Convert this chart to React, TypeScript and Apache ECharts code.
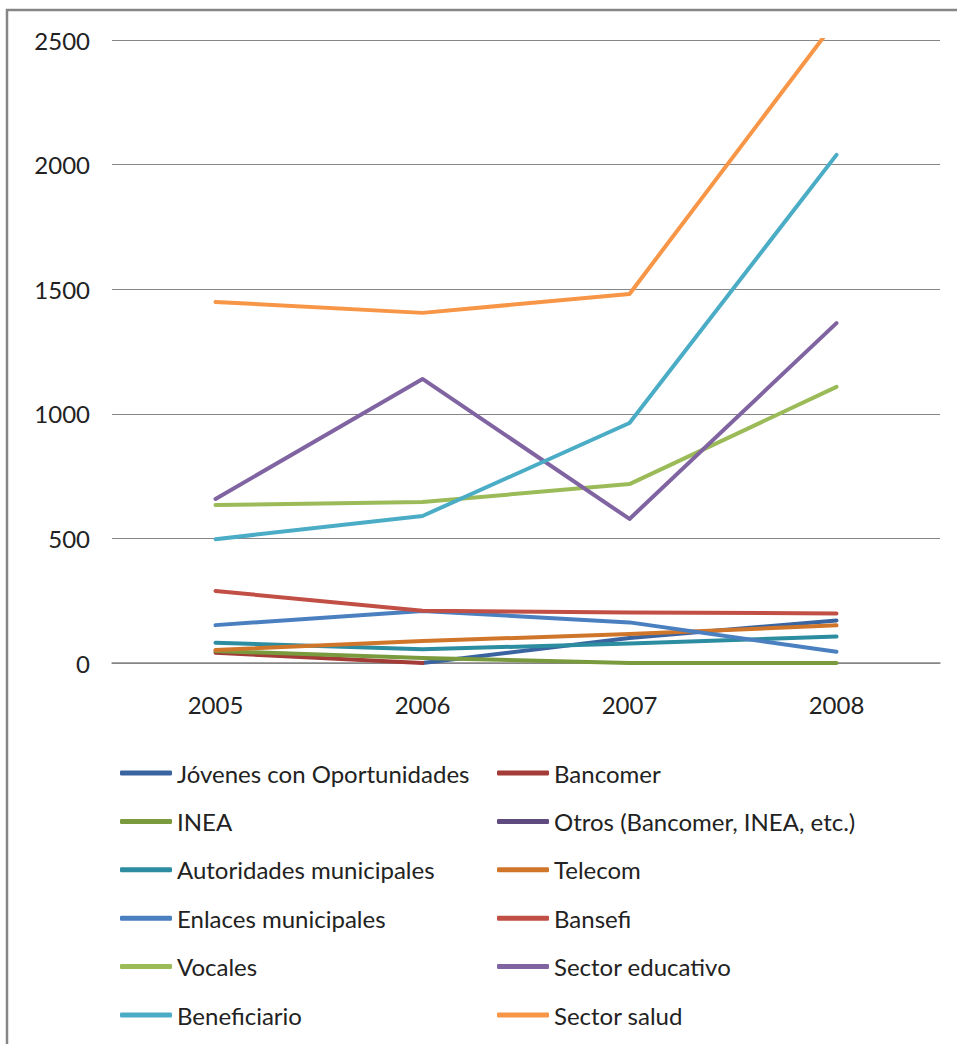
import React, { useEffect, useRef } from "react";
import * as echarts from "echarts";

const years = ["2005", "2006", "2007", "2008"];
const seriesNames = [
  "Jóvenes con Oportunidades",
  "Bancomer",
  "INEA",
  "Otros (Bancomer, INEA, etc.)",
  "Autoridades municipales",
  "Telecom",
  "Enlaces municipales",
  "Bansefi",
  "Vocales",
  "Sector educativo",
  "Beneficiario",
  "Sector salud",
];
const jovenes = [null, 0, 100, 171];
const bancomer = [41, 0, null, null];
const inea = [48, 20, 0, 0];
const otros = [null, null, null, null];
const autoridades = [81, 55, 78, 106];
const telecom = [52, 88, 116, 151];
const enlaces = [152, 209, 163, 45];
const bansefi = [289, 210, 203, 199];
const vocales = [634, 646, 718, 1108];
const sectorEducativo = [658, 1140, 578, 1364];
const beneficiario = [497, 590, 963, 2039];
const sectorSalud = [1449, 1405, 1481, 2580];
const seriesValues = [
  jovenes, bancomer, inea, otros, autoridades, telecom,
  enlaces, bansefi, vocales, sectorEducativo, beneficiario, sectorSalud,
];
const colors = [
  "#3A64A0", "#A33B37", "#7A9A3E", "#5F4B80", "#2C8CA0", "#D0762B",
  "#4A7FC0", "#C24F45", "#9BBB59", "#8064A2", "#4BACC6", "#F79646",
];
const yTicks = { min: 0, max: 2500, interval: 500 };

const FONT = "Lato, 'Open Sans', sans-serif";

export default function App() {
  const ref = useRef<HTMLDivElement>(null);
  useEffect(() => {
    if (!ref.current) return;
    const chart = echarts.init(ref.current, null, { renderer: "svg" });
    const legendText = {
      fontFamily: FONT,
      fontSize: 24,
      color: "#222",
      lineHeight: 26,
    };
    const col1 = seriesNames.filter((_, i) => i % 2 === 0);
    const col2 = seriesNames.filter((_, i) => i % 2 === 1);
    const legendBase = {
      orient: "vertical",
      top: 755,
      itemWidth: 52,
      itemHeight: 5,
      itemGap: 22.4,
      icon: "roundRect",
      textStyle: legendText,
      selectedMode: false,
    };
    chart.setOption({
      animation: false,
      color: colors,
      textStyle: { fontFamily: FONT },
      grid: { left: 112, right: 17, top: 40, bottom: 381, containLabel: false },
      xAxis: {
        type: "category",
        data: years,
        boundaryGap: true,
        axisLine: { show: true, lineStyle: { color: "#868686", width: 1.5 } },
        axisTick: { show: false },
        axisLabel: { fontFamily: FONT, fontSize: 24, color: "#222", margin: 29 },
      },
      yAxis: {
        type: "value",
        min: yTicks.min,
        max: yTicks.max,
        interval: yTicks.interval,
        axisLine: { show: false },
        axisTick: { show: false },
        axisLabel: {
          fontFamily: FONT,
          fontSize: 24,
          color: "#222",
          margin: 22,
          formatter: (v: number) => String(v),
        },
        splitLine: { lineStyle: { color: "#868686", width: 1 } },
      },
      legend: [
        { ...legendBase, left: 115, data: col1 },
        { ...legendBase, left: 492, data: col2 },
      ],
      graphic: [
        {
          type: "rect",
          shape: { x: 7, y: 10, width: 1000, height: 1100 },
          style: { fill: "none", stroke: "#868686", lineWidth: 2.5 },
          silent: true,
        },
      ],
      series: seriesNames.map((name, i) => ({
        name,
        type: "line",
        data: seriesValues[i],
        symbol: "none",
        showSymbol: false,
        connectNulls: false,
        clip: true,
        lineStyle: { width: 4, color: colors[i], cap: "round", join: "round" },
        itemStyle: { color: colors[i] },
      })),
    });
    return () => chart.dispose();
  }, []);
  return (
    <div
      ref={ref}
      style={{ position: "fixed", left: 0, top: 0, width: 957, height: 1044, background: "#fff" }}
    />
  );
}
